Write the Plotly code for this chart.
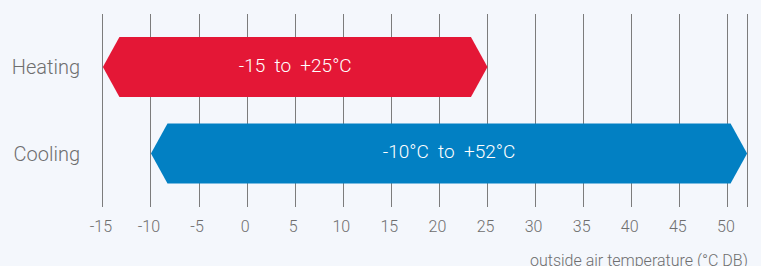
import plotly.graph_objects as go

modes = ["Heating", "Cooling"]
low_c = [-15, -10]
high_c = [25, 52]
range_text = ["-15  to  +25°C", "-10°C  to  +52°C"]
colors = ["#E41736", "#0280C3"]
y_pos = [1, 0]

tick_vals = [-15, -10, -5, 0, 5, 10, 15, 20, 25, 30, 35, 40, 45, 50, 52]
tick_text = ["-15", "-10", "-5", "0", "5", "10", "15", "20", "25", "30", "35", "40", "45", "50", ""]
axis_title = "outside air temperature (°C DB)"

FONT = "Roboto"
d = 1.72   # chevron depth in axis units
h = 0.347  # half bar height in axis units

fig = go.Figure()
for name, lo, hi, txt, col, y in zip(modes, low_c, high_c, range_text, colors, y_pos):
    xs = [lo, lo + d, hi - d, hi, hi - d, lo + d, lo]
    ys = [y, y + h, y + h, y, y - h, y - h, y]
    fig.add_trace(go.Scatter(x=xs, y=ys, fill="toself", fillcolor=col, mode="lines",
                             line=dict(width=0, color=col), hoverinfo="skip", showlegend=False))
    fig.add_trace(go.Scatter(x=[(lo + hi) / 2], y=[y], mode="text", text=[txt],
                             textposition="middle center",
                             textfont=dict(family=FONT, size=19, color="white", weight=300),
                             showlegend=False, hoverinfo="skip"))

fig.add_annotation(text=axis_title, xref="paper", yref="paper", x=1, y=-0.275,
                   xanchor="right", yanchor="middle", showarrow=False,
                   font=dict(family=FONT, size=16, color="#6e6e6e", weight=300))

fig.update_layout(
    width=761, height=266,
    margin=dict(l=100, r=11, t=14, b=59),
    paper_bgcolor="#F4F7FC", plot_bgcolor="#F4F7FC",
    xaxis=dict(range=[-15.3, 52.3], tickvals=tick_vals, ticktext=tick_text,
               showgrid=True, gridcolor="#7c7c7c", gridwidth=1.4, zeroline=False,
               showline=False, ticks="", ticklabelstandoff=8, ticklabelshift=-2,
               tickfont=dict(family=FONT, size=16, color="#6e6e6e", weight=300)),
    yaxis=dict(range=[-0.618, 1.613], tickvals=y_pos, ticktext=modes,
               showgrid=False, zeroline=False, showline=False, ticks="",
               ticklabelstandoff=19,
               tickfont=dict(family=FONT, size=20, color="#6e6e6e", weight=300)),
)

fig.write_html("out.html", config={"displayModeBar": False},
               post_script="document.body.style.margin='0';document.body.style.overflow='hidden';")
